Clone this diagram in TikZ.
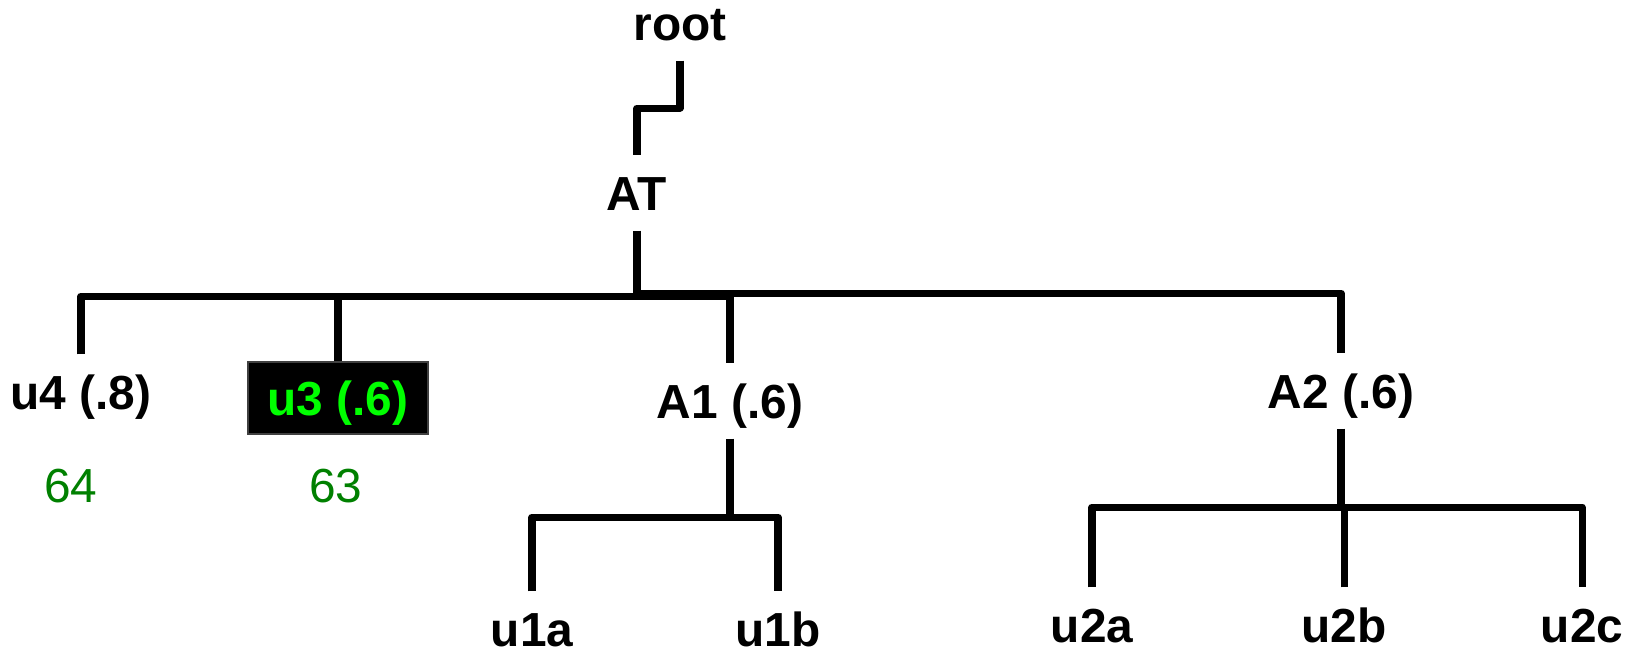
\documentclass[tikz,border=0pt]{standalone}
\usepackage{fontspec}
\setmainfont{Liberation Sans}
\definecolor{dkgreen}{RGB}{0,128,0}
\definecolor{ltgreen}{RGB}{0,255,0}
\begin{document}
\begin{tikzpicture}[x=0.01cm,y=-0.01cm,
  lbl/.style={font=\fontsize{13.6}{16}\selectfont\bfseries, anchor=base,
    text height=0.34cm, text depth=0pt, inner xsep=0pt, inner ysep=0.2cm},
  num/.style={font=\fontsize{13.6}{16}\selectfont, text=dkgreen, anchor=base, inner sep=0pt},
  conn/.style={line width=2pt, line join=round, line cap=butt},
  hilite/.style={lbl, fill=black, draw=black!75, line width=0.6pt, text=ltgreen,
    minimum width=1.8cm, inner ysep=0.19cm}]
\useasboundingbox (0,0) rectangle (1627,653);

% nodes
\node[lbl] (root) at (680,40) {root};
\node[lbl] (AT) at (637,210) {AT};
\node[lbl] (u4) at (81,409) {u4 (.8)};
\node[hilite] (u3) at (338,415) {u3 (.6)};
\node[lbl] (A1) at (730,418) {A1 (.6)};
\node[lbl] (A2) at (1341,408) {A2 (.6)};
\node[num] (n64) at (71,502) {64};
\node[num] (n63) at (336,502) {63};
\node[lbl] (u1a) at (532,646) {u1a};
\node[lbl] (u1b) at (778,646) {u1b};
\node[lbl] (u2a) at (1092,642) {u2a};
\node[lbl] (u2b) at (1344,642) {u2b};
\node[lbl] (u2c) at (1582,642) {u2c};

% junction coordinates
\coordinate (rootbend) at (637,108);
\coordinate (barL) at (637,296);
\coordinate (barR) at (637,293);
\coordinate (A1bar) at (730,517);
\coordinate (A2bar) at (1341,507);

% connectors
\draw[conn] (root.south) |- (rootbend) -- (AT.north);
\draw[conn] (AT.south) -- (barL);
\draw[conn] (u4.north) -- (u4.north |- barL) -- (A1.north |- barL) -- (A1.north);
\draw[conn] (u3.north) -- (u3.north |- barL);
\draw[conn] (barR) -| (A2.north);
\draw[conn] (A1.south) -- (A1bar);
\draw[conn] (u1a.north) |- (A1bar) -| (u1b.north);
\draw[conn] (A2.south) -- (A2bar);
\draw[conn] (u2a.north) |- (A2bar) -| (u2c.north);
\draw[conn] (u2b.north) -- (u2b.north |- A2bar);
\end{tikzpicture}
\end{document}
